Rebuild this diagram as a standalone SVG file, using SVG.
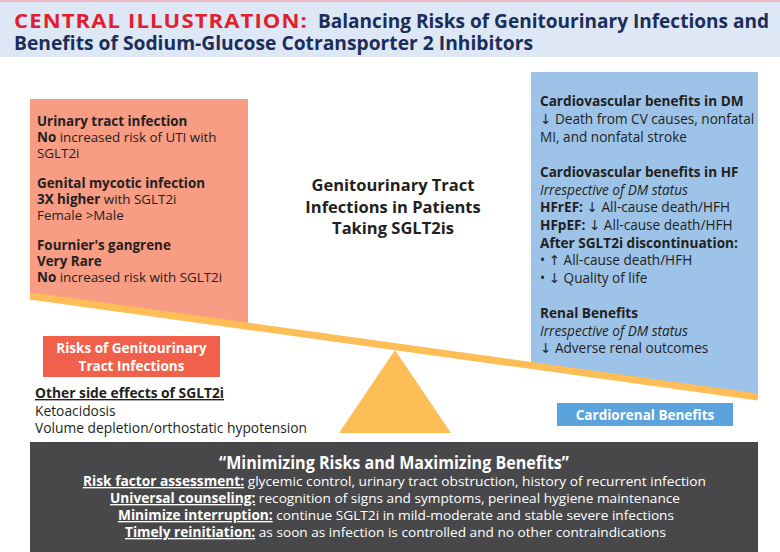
<svg xmlns="http://www.w3.org/2000/svg" width="780" height="552" viewBox="0 0 780 552">
<style>
.t{font-family:"Open Sans","Noto Sans","DejaVu Sans",sans-serif;fill:#231f20}
.b{font-weight:700}
.i{font-style:italic}
.rt{font-size:13.4px}
.bt{font-size:13.6px}
.w{fill:#ffffff}
.hd{font-family:"Open Sans","Noto Sans",sans-serif;font-weight:700}
.bp{font-family:"Open Sans","Noto Sans",sans-serif;fill:#ffffff;font-size:13.5px}
</style>
<rect x="0" y="0" width="780" height="57" fill="#dde7f5"/>
<rect x="0" y="0" width="780" height="2" fill="#f0b8c4"/>
<g id="title">
<text class="hd" x="14" y="28" font-size="20" fill="#e0202e" textLength="294" lengthAdjust="spacingAndGlyphs" letter-spacing="1">CENTRAL ILLUSTRATION:</text>
<text class="hd" x="318" y="28" font-size="20" fill="#1b2d5b" textLength="451" lengthAdjust="spacingAndGlyphs">Balancing Risks of Genitourinary Infections and</text>
<text class="hd" x="14" y="50" font-size="20" fill="#1b2d5b" textLength="519" lengthAdjust="spacingAndGlyphs">Benefits of Sodium-Glucose Cotransporter 2 Inhibitors</text>
</g>
<g id="risks-panel">
<polygon points="30,99 248,99 248,326 30,296" fill="#f89c83"/>
<text class="t rt b" x="37" y="126">Urinary tract infection</text>
<text class="t rt" x="37" y="142"><tspan class="b">No</tspan> increased risk of UTI with</text>
<text class="t rt" x="37" y="158">SGLT2i</text>
<text class="t rt b" x="37" y="188">Genital mycotic infection</text>
<text class="t rt" x="37" y="204"><tspan class="b">3X higher</tspan> with SGLT2i</text>
<text class="t rt" x="37" y="220">Female &gt;Male</text>
<text class="t rt b" x="37" y="250">Fournier's gangrene</text>
<text class="t rt b" x="37" y="266">Very Rare</text>
<text class="t rt" x="37" y="282"><tspan class="b">No</tspan> increased risk with SGLT2i</text>
</g>
<g id="benefits-panel">
<polygon points="531,72 758,72 758,397 531,364" fill="#9dc3e8"/>
<text class="t bt b" x="540" y="106">Cardiovascular benefits in DM</text>
<text class="t bt" x="540" y="124">↓ Death from CV causes, nonfatal</text>
<text class="t bt" x="540" y="142">MI, and nonfatal stroke</text>
<text class="t bt b" x="540" y="177">Cardiovascular benefits in HF</text>
<text class="t bt i" x="540" y="195">Irrespective of DM status</text>
<text class="t bt" x="540" y="212"><tspan class="b">HFrEF:</tspan> ↓ All-cause death/HFH</text>
<text class="t bt" x="540" y="230"><tspan class="b">HFpEF:</tspan> ↓ All-cause death/HFH</text>
<text class="t bt b" x="540" y="248">After SGLT2i discontinuation:</text>
<text class="t bt" x="540" y="265">• ↑ All-cause death/HFH</text>
<text class="t bt" x="540" y="283">• ↓ Quality of life</text>
<text class="t bt b" x="540" y="318">Renal Benefits</text>
<text class="t bt i" x="540" y="336">Irrespective of DM status</text>
<text class="t bt" x="540" y="353">↓ Adverse renal outcomes</text>
</g>
<g id="center-title">
<text class="t b" x="393" y="191" font-size="16.5" text-anchor="middle">Genitourinary Tract</text>
<text class="t b" x="393" y="212.5" font-size="16.5" text-anchor="middle">Infections in Patients</text>
<text class="t b" x="393" y="234" font-size="16.5" text-anchor="middle">Taking SGLT2is</text>
</g>
<g id="scale">
<line x1="30" y1="296" x2="758" y2="397" stroke="#fdbe57" stroke-width="7"/>
<polygon points="395,350 339,433 451,433" fill="#fdbe57"/>
</g>
<g id="risks-label">
<rect x="43" y="336" width="177" height="41" fill="#f1604a"/>
<text class="t b w" x="131.5" y="353" font-size="13.5" text-anchor="middle">Risks of Genitourinary</text>
<text class="t b w" x="131.5" y="371" font-size="13.5" text-anchor="middle">Tract Infections</text>
</g>
<g id="other-effects">
<text class="t b" x="35" y="398" font-size="13.8" text-decoration="underline">Other side effects of SGLT2i</text>
<text class="t" x="35" y="415.5" font-size="13.8">Ketoacidosis</text>
<text class="t" x="35" y="433" font-size="13.8">Volume depletion/orthostatic hypotension</text>
</g>
<g id="benefits-label">
<rect x="557" y="403" width="176" height="23" fill="#5aa3dc"/>
<text class="t b w" x="645" y="420" font-size="13.5" text-anchor="middle">Cardiorenal Benefits</text>
</g>
<g id="strategy">
<rect x="30" y="442" width="728" height="110" fill="#48484a"/>
<text class="hd" x="394" y="469" font-size="17.5" fill="#ffffff" text-anchor="middle" textLength="350" lengthAdjust="spacingAndGlyphs">“Minimizing Risks and Maximizing Benefits”</text>
<text class="bp" x="83" y="486" textLength="623" lengthAdjust="spacingAndGlyphs"><tspan font-weight="700" text-decoration="underline">Risk factor assessment:</tspan> glycemic control, urinary tract obstruction, history of recurrent infection</text>
<text class="bp" x="110" y="503" textLength="570" lengthAdjust="spacingAndGlyphs"><tspan font-weight="700" text-decoration="underline">Universal counseling:</tspan> recognition of signs and symptoms, perineal hygiene maintenance</text>
<text class="bp" x="118" y="520" textLength="556" lengthAdjust="spacingAndGlyphs"><tspan font-weight="700" text-decoration="underline">Minimize interruption:</tspan> continue SGLT2i in mild-moderate and stable severe infections</text>
<text class="bp" x="125" y="537" textLength="541" lengthAdjust="spacingAndGlyphs"><tspan font-weight="700" text-decoration="underline">Timely reinitiation:</tspan> as soon as infection is controlled and no other contraindications</text>
</g>
</svg>
